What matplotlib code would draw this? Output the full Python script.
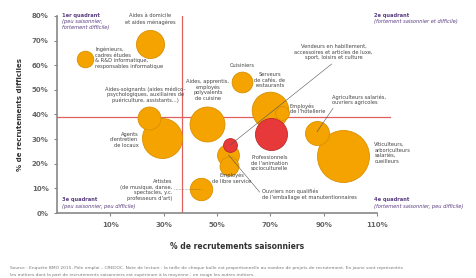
import matplotlib.pyplot as plt

# metiers (bulles)
metiers = [
    "Aides à domicile et aides ménagères",
    "Ingénieurs, cadres études & R&D informatique",
    "Aides-soignants",
    "Agents d'entretien de locaux",
    "Aides, apprentis, employés polyvalents de cuisine",
    "Cuisiniers",
    "Serveurs de cafés, de restaurants",
    "Employés de l'hôtellerie",
    "Professionnels de l'animation socioculturelle",
    "Vendeurs en habillement",
    "Ouvriers non qualifiés de l'emballage",
    "Employés de libre service",
    "Artistes",
    "Agriculteurs salariés, ouvriers agricoles",
    "Viticulteurs, arboriculteurs salariés, cueilleurs",
]
saisonniers = [25, 0.6, 24.6, 29.4, 46.3, 59.3, 69.8, 74.3, 70.2, 54.9, 54.3, 54.5, 44, 87.5, 97.1]
difficiles = [68.7, 62.6, 38.6, 30.5, 36, 53.3, 42, 40.7, 32.1, 27.6, 23.6, 19.1, 9.8, 32.5, 23.2]
projets = [33, 11.5, 22, 67, 51, 18, 56, 8, 43, 8, 20, 15, 21, 24, 113]
couleurs = ["o", "o", "o", "o", "o", "o", "o", "o", "r", "r", "o", "o", "o", "o", "o"]

moy_saison = 37
moy_diff = 39

x_ticks = [10, 30, 50, 70, 90, 110]
y_ticks = [0, 10, 20, 30, 40, 50, 60, 70, 80]

orange = "#f4a300"
orange_edge = "#d99000"
rouge = "#e8393a"
rouge_edge = "#bf2a2a"
violet = "#5b3f82"
gris = "#555555"

fig = plt.figure(figsize=(4.77, 2.78), dpi=100)
ax = fig.add_axes([57 / 477, 65 / 278, 360 / 477, 197 / 278])
ax.set_xlim(-10, 125)
ax.set_ylim(0, 80)

# red mean lines
ax.plot([moy_saison, moy_saison], [0, 80], color="#e06060", lw=0.9, zorder=1)
ax.plot([-10, 115], [moy_diff, moy_diff], color="#e06060", lw=0.9, zorder=1)

# bubbles, biggest first
order = sorted(range(len(projets)), key=lambda i: -projets[i])
for i in order:
    if couleurs[i] == "r":
        fc, ec = rouge, rouge_edge
    else:
        fc, ec = orange, orange_edge
    ax.scatter(saisonniers[i], difficiles[i], s=projets[i] * 12.4, color=fc,
               edgecolor=ec, linewidth=0.6, zorder=3, clip_on=False)

fs = 3.7
tc = "#444444"
def lab(x, y, txt, ha="center"):
    ax.text(x, y, txt, fontsize=fs, color=tc, ha=ha, va="center",
            linespacing=1.15, zorder=5)

lab(25, 78.8, "Aides à domicile\net aides ménagères")
lab(4.4, 63, "Ingénieurs,\ncadres études\n& R&D informatique,\nresponsables informatique", ha="left")
lab(23.1, 48, "Aides-soignants (aides médico-\npsychologiques, auxiliaires de\npuériculture, assistants...)")
lab(20.5, 29.7, "Agents\nd'entretien\nde locaux", ha="right")
lab(46.6, 50, "Aides, apprentis,\nemployés\npolyvalents\nde cuisine")
lab(59.3, 59.8, "Cuisiniers")
lab(69.8, 54, "Serveurs\nde cafés, de\nrestaurants")
lab(77.3, 42.3, "Employés\nde l'hôtellerie", ha="left")
lab(93.7, 65.4, "Vendeurs en habillement,\naccessoires et articles de luxe,\nsport, loisirs et culture")
lab(93, 46, "Agriculteurs salariés,\nouvriers agricoles", ha="left")
lab(109, 24.4, "Viticulteurs,\narboriculteurs\nsalariés,\ncueilleurs", ha="left")
lab(69.8, 20.3, "Professionnels\nde l'animation\nsocioculturelle")
lab(55.6, 14.2, "Employés\nde libre service")
lab(66.8, 7.7, "Ouvriers non qualifiés\nde l'emballage et manutentionnaires", ha="left")
lab(33.2, 9.3, "Artistes\n(de musique, danse,\nspectacles, y.c.\nprofesseurs d'art)", ha="right")

# leader lines
lc = "#555555"
ax.plot([93, 54.9], [60.5, 27.6], color=lc, lw=0.4, zorder=4)
ax.plot([93.5, 87.5], [42.5, 33], color=lc, lw=0.4, zorder=4)
ax.plot([54.3, 66], [23.6, 8.5], color=lc, lw=0.4, zorder=4)
ax.plot([33.8, 44], [9.8, 9.8], color=lc, lw=0.4, ls=":", zorder=4)

# quadrants
def quad(x, y, titre, sous):
    ax.text(x, y, titre, fontsize=3.7, color=violet, fontweight="bold",
            ha="left", va="top", zorder=5, clip_on=False)
    ax.text(x, y - 2.6, sous, fontsize=3.7, color=violet, style="italic",
            ha="left", va="top", linespacing=1.15, zorder=5, clip_on=False)

quad(-8, 81.3, "1er quadrant", "(peu saisonnier,\nfortement difficile)")
quad(109, 81.3, "2e quadrant", "(fortement saisonnier et difficile)")
quad(-8, 6.4, "3e quadrant", "(peu saisonnier, peu difficile)")
quad(109, 6.4, "4e quadrant", "(fortement saisonnier, peu difficile)")

# axes
for s in ["top", "right"]:
    ax.spines[s].set_visible(False)
ax.spines["left"].set_color("#888888")
ax.spines["bottom"].set_color("#888888")
ax.spines["left"].set_linewidth(1.2)
ax.spines["bottom"].set_linewidth(1.2)
ax.spines["bottom"].set_bounds(-10, 110)
ax.set_xticks(x_ticks)
ax.set_xticklabels([f"{v}%" for v in x_ticks], fontweight="bold")
ax.set_yticks(y_ticks)
ax.set_yticklabels([f"{v}%" for v in y_ticks], fontweight="bold")
ax.tick_params(axis="both", labelsize=5, colors="#888888", length=2.5, width=0.8, labelcolor="#666666")
ax.tick_params(axis="x", pad=4)

ax.set_xlabel("% de recrutements saisonniers", fontsize=5.5, color="#333333", labelpad=10, fontweight="semibold")
ax.set_ylabel("% de recrutements difficiles", fontsize=5, color="#333333", labelpad=6, fontweight="semibold")

fig.text(10 / 477, 1 - 268 / 278,
         "Source : Enquête BMO 2015, Pôle emploi – CREDOC. Note de lecture : la taille de chaque bulle est proportionnelle au nombre de projets de recrutement. En jaune sont représentés",
         fontsize=3.2, color="#777777", ha="left", va="center")
fig.text(10 / 477, 1 - 275 / 278,
         "les métiers dont la part de recrutements saisonniers est supérieure à la moyenne ; en rouge les autres métiers.",
         fontsize=3.2, color="#777777", ha="left", va="center")

fig.savefig("out.png", dpi=100)
